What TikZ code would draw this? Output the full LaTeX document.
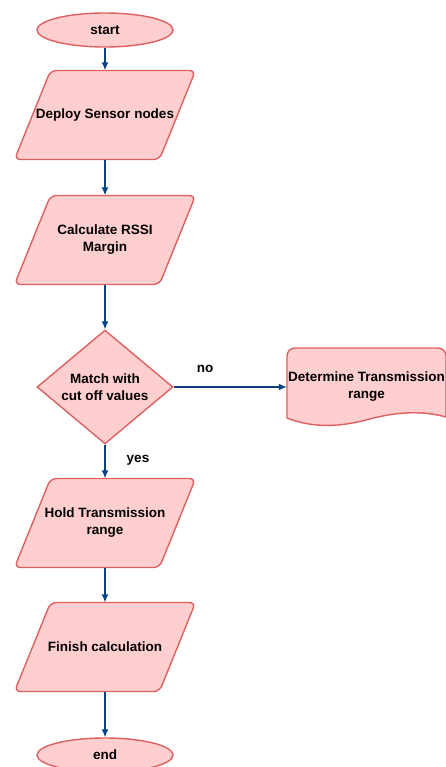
\documentclass[tikz,border=0pt]{standalone}
\usepackage{fontspec}
\setmainfont{Liberation Sans}
\usetikzlibrary{shapes.geometric,arrows.meta}
\definecolor{boxfill}{RGB}{255,206,206}
\definecolor{boxline}{RGB}{222,96,96}
\definecolor{flowline}{RGB}{10,65,130}
% parallelogram box: name, x, y, text
\newcommand{\ioblock}[4]{%
  \draw[iobox] (#2-90.5, #3+44.5) -- ++(145, 0) -- ++(36, -89) -- ++(-145, 0) -- cycle;
  \node[iotext] (#1) at (#2, #3) {#4};}
\begin{document}
\begin{tikzpicture}[x=1pt,y=-1pt,
    every node/.style={font=\fontsize{13.5}{17}\selectfont\bfseries,align=center,inner sep=0pt},
    terminal/.style={ellipse,draw=boxline,fill=boxfill,line width=1.4pt,minimum width=136pt,minimum height=34pt},
    iobox/.style={draw=boxline,fill=boxfill,line width=1.4pt,rounded corners=6pt},
    iotext/.style={minimum width=146pt,minimum height=89pt},
    decision/.style={diamond,draw=boxline,fill=boxfill,line width=1.4pt,minimum width=136pt,minimum height=112pt},
    flow/.style={draw=flowline,line width=1.3pt,-{Latex[length=8pt,width=7pt]}}]

       \useasboundingbox (0,0) rectangle (446,767);
       \clip (0,0) rectangle (446,767);

       \node[terminal] (start) at (105, 30) {start};
       \ioblock{deploy}{105}{115}{Deploy Sensor nodes}
       \ioblock{rssi}{105}{240}{Calculate RSSI\\Margin}
       \node[decision] (match) at (105, 387) {Match with\\cut off values};
       \ioblock{hold}{105}{523}{Hold Transmission\\range}
       \ioblock{finish}{105}{647}{Finish calculation}
       \node[terminal] (end) at (105, 755) {end};

       % document shape on the right
       \draw[draw=boxline,fill=boxfill,line width=1.4pt]
         (287, 418) -- (287, 356) [rounded corners=8pt] -- (287, 348) -- (446, 348) [sharp corners] -- (446, 417)
         .. controls (420, 410) and (395, 412) .. (366, 420)
         .. controls (335, 428) and (310, 427) .. (287, 418) -- cycle;
       \node[minimum width=159pt,minimum height=70pt] (determine) at (366.5, 387) {Determine Transmission\\range};

       \draw[flow] (start) -- (deploy);
       \draw[flow] (deploy) -- (rssi);
       \draw[flow] (rssi) -- (match);
       \draw[flow] (match) -- (determine);
       \draw[flow] (match) -- (hold);
       \draw[flow] (hold) -- (finish);
       \draw[flow] (finish) -- (end);

       \node (no) at (205, 369) {no};
       \node (yes) at (138, 460) {yes};
     \end{tikzpicture}
\end{document}
